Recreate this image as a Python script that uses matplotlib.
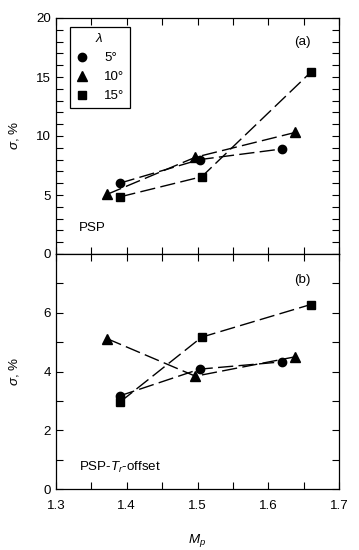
import matplotlib
matplotlib.use("Agg")
import matplotlib.pyplot as plt
from matplotlib.ticker import MultipleLocator, FixedLocator

plt.rcParams['font.family'] = ['Liberation Sans', 'DejaVu Sans']
plt.rcParams['mathtext.fontset'] = 'custom'
plt.rcParams['mathtext.rm'] = 'Liberation Sans'
plt.rcParams['mathtext.it'] = 'Liberation Sans:italic'

labels = ['5°', '10°', '15°']
markers = ['o', '^', 's']

# Panel (a) PSP
a_x = [[1.390, 1.503, 1.619], [1.372, 1.497, 1.638], [1.391, 1.506, 1.660]]
a_y = [[6.0, 8.0, 8.9], [5.05, 8.2, 10.3], [4.85, 6.55, 15.4]]
# Panel (b) PSP-Tr-offset
b_x = [[1.390, 1.503, 1.620], [1.372, 1.497, 1.638], [1.391, 1.506, 1.660]]
b_y = [[3.17, 4.08, 4.33], [5.12, 3.84, 4.5], [2.97, 5.17, 6.28]]

fig = plt.figure(figsize=(3.59, 5.5), dpi=100)
W, H = 359, 550
left, right = 56 / W, 339 / W
ax1 = fig.add_axes([left, 1 - 254 / H, right - left, (254 - 18) / H])
ax2 = fig.add_axes([left, 1 - 489 / H, right - left, (489 - 254) / H])

dash = (0, (11, 3.8))
fs = 9.6
msizes = {'o': 6, '^': 6.5, 's': 6}
for ax, xs, ys in [(ax1, a_x, a_y), (ax2, b_x, b_y)]:
    for x, y, m, l in zip(xs, ys, markers, labels):
        ax.plot(x, y, color='black', lw=1.0, linestyle=dash)
        ax.plot(x, y, color='black', lw=0, marker=m, markersize=msizes[m], label=l)
    ax.set_xlim(1.3, 1.7)
    ax.xaxis.set_major_locator(MultipleLocator(0.1))
    ax.xaxis.set_minor_locator(MultipleLocator(0.05))
    ax.tick_params(which='both', direction='in', top=True, right=True, labelsize=fs,
                   width=0.8, length=5)
    ax.tick_params(axis='x', pad=8)
    for s in ax.spines.values():
        s.set_linewidth(0.9)

ax1.set_ylim(0, 20)
ax1.yaxis.set_major_locator(MultipleLocator(5))
ax1.yaxis.set_minor_locator(MultipleLocator(1))
ax1.tick_params(axis='x', labelbottom=False)
ax1.set_ylabel(r'$\sigma$, %', fontsize=fs)

ax2.set_ylim(0, 8)
ax2.yaxis.set_major_locator(FixedLocator([0, 2, 4, 6]))
ax2.yaxis.set_minor_locator(FixedLocator([1, 3, 5, 7]))
ax2.set_ylabel(r'$\sigma$, %', fontsize=fs)
ax2.set_xlabel(r'$M_p$', fontsize=fs, labelpad=14)

ax1.yaxis.set_label_coords(-0.125, 0.5)
ax2.yaxis.set_label_coords(-0.125, 0.5)

handles, lbls = ax1.get_legend_handles_labels()
leg = ax1.legend(handles, lbls, title=r'$\lambda$', loc='upper left',
                 bbox_to_anchor=(0.048, 0.962), fontsize=fs, title_fontsize=fs,
                 frameon=True, fancybox=False, edgecolor='black', framealpha=1,
                 handlelength=1.0, handletextpad=1.2, borderpad=0.4, labelspacing=0.5,
                 borderaxespad=0)
leg.get_frame().set_linewidth(0.9)

ax1.text(0.87, 0.9, '(a)', transform=ax1.transAxes, fontsize=fs, ha='center', va='center')
ax1.text(0.08, 0.11, 'PSP', transform=ax1.transAxes, fontsize=fs, ha='left', va='center')
ax2.text(0.87, 0.89, '(b)', transform=ax2.transAxes, fontsize=fs, ha='center', va='center')
ax2.text(0.08, 0.09, r'PSP-$T_r$-offset', transform=ax2.transAxes, fontsize=fs, ha='left', va='center')

fig.savefig('out.png', dpi=100)
